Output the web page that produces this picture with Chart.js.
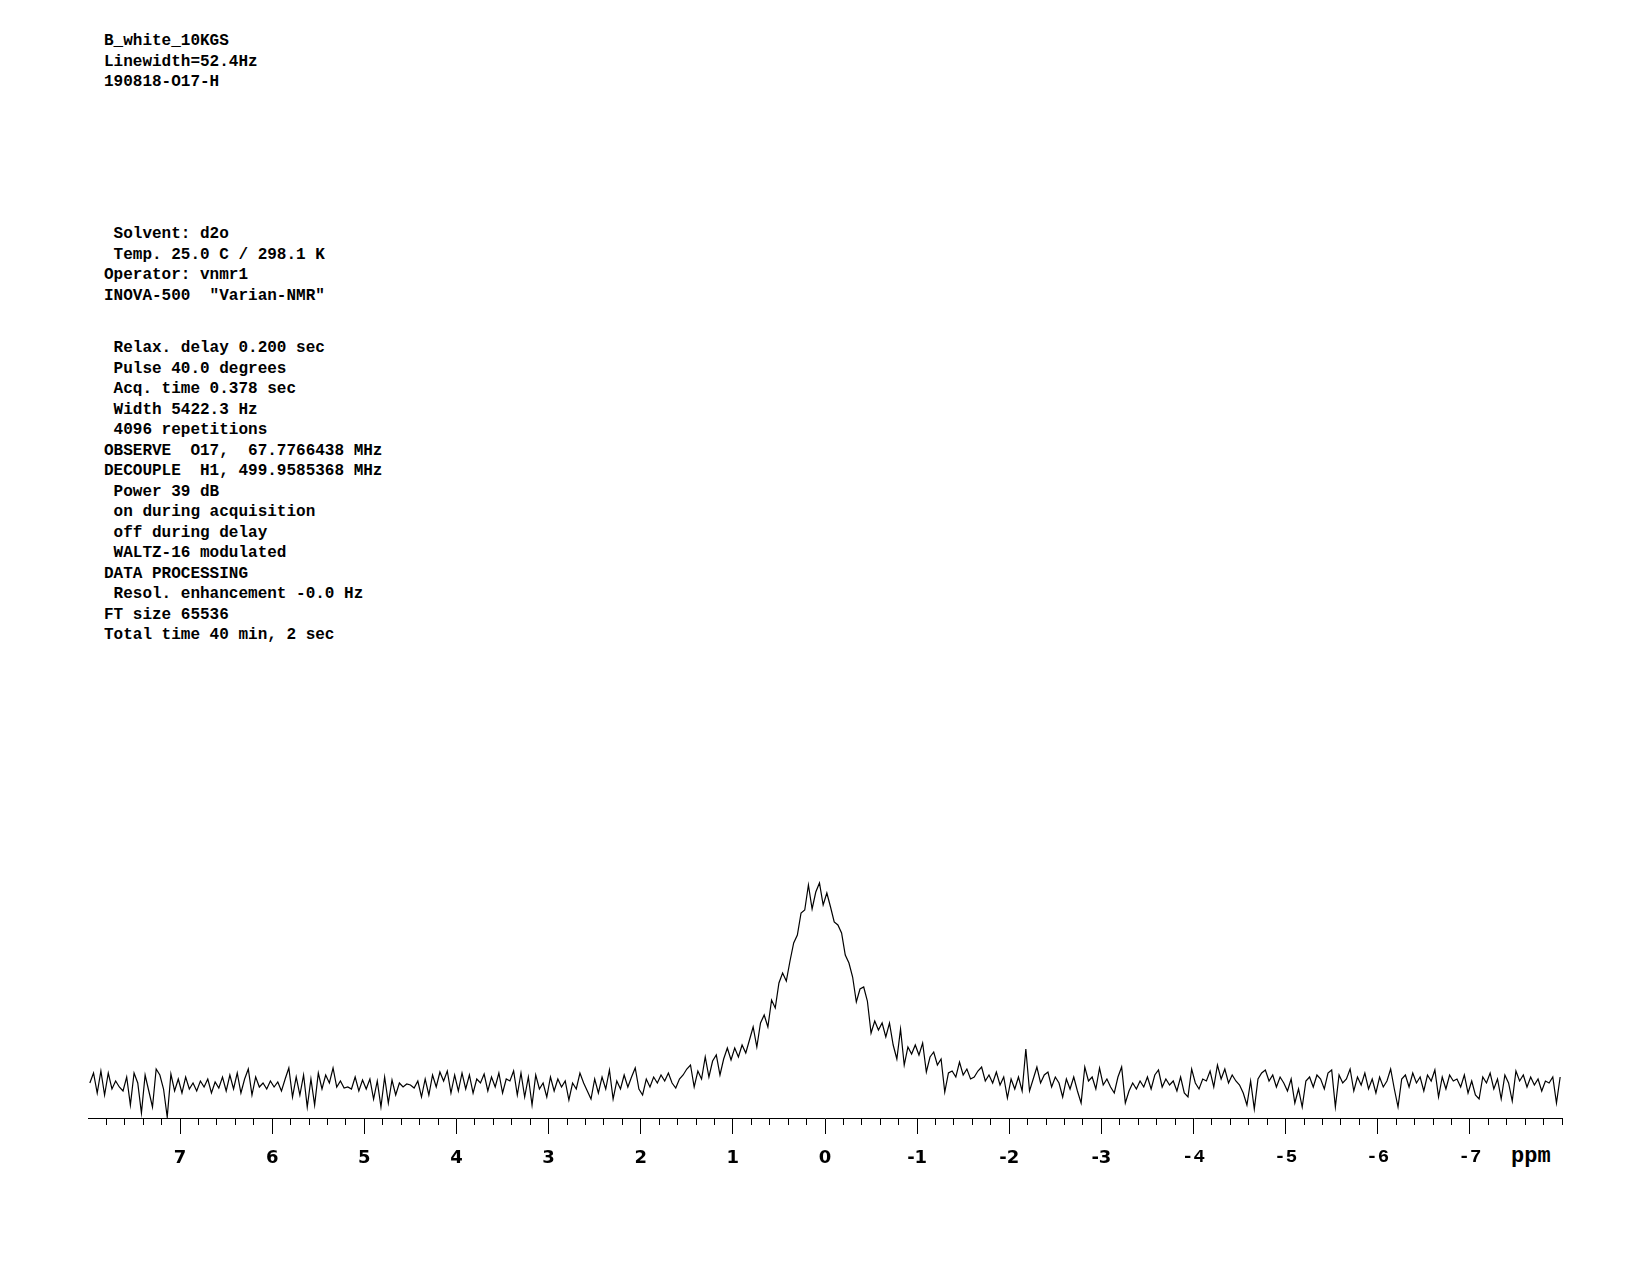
<!DOCTYPE html>
<html>
<head>
<meta charset="utf-8">
<script src="https://cdn.jsdelivr.net/npm/chart.js@4.4.1/dist/chart.umd.min.js"></script>
<style>
    body { margin: 0; background: #fff; }
    .params {
        position: absolute;
        left: 104px;
        font-family: 'Liberation Mono', monospace;
        font-weight: bold;
        font-size: 16px;
        line-height: 20.5px;
        color: #000;
        white-space: pre;
    }
    #ppm {
        position: absolute;
        left: 1511px;
        top: 1145px;
        font-family: 'Liberation Mono', monospace;
        font-weight: bold;
        font-size: 22px;
        line-height: 24px;
    }
    #wrap { position: absolute; left: 0; top: 840px; width: 1650px; height: 340px; }
</style>
</head>
<body>
<div class="params" style="top:31px">B_white_10KGS
Linewidth=52.4Hz
190818-O17-H</div>
<div class="params" style="top:224px"> Solvent: d2o
 Temp. 25.0 C / 298.1 K
Operator: vnmr1
INOVA-500  "Varian-NMR"</div>
<div class="params" style="top:338px"> Relax. delay 0.200 sec
 Pulse 40.0 degrees
 Acq. time 0.378 sec
 Width 5422.3 Hz
 4096 repetitions
OBSERVE  O17,  67.7766438 MHz
DECOUPLE  H1, 499.9585368 MHz
 Power 39 dB
 on during acquisition
 off during delay
 WALTZ-16 modulated
DATA PROCESSING
 Resol. enhancement -0.0 Hz
FT size 65536
Total time 40 min, 2 sec</div>
<div id="ppm">ppm</div>
<div id="wrap"><canvas id="spectrum" width="1650" height="340"></canvas></div>

<script>
// spectrum sampled every 0.04 ppm, starting at 7.98 ppm (left edge) going upfield
const ppmStart = 7.98;
const ppmStep = -0.04;
const intensity = [
    2, 12, -8, 14, -10, 12, -4, 4, -2, -6, 8, -20, 12, 2, -28, 10, -6, -22, 16, 10, -4, -32, 11, -6, 6,
    -8, 8, -4, 2, -6, 4, -2, 6, -8, 3, -3, 8, -6, 10, -4, 12, -8, 6, 16, -10, 8, -2, 2, -4, 4,
    -2, 3, -6, 6, 17, -12, 8, -10, 10, -22, 6, -20, 12, -4, 10, 2, 17, -2, 4, -3, -2, -4, 8, -6, 5,
    -4, 6, -14, 4, -22, 8, -18, 5, -10, 2, -2, 1, 0, -3, 4, -12, 6, -10, 10, -2, 13, 4, 14, -8, 10,
    -6, 12, -4, 10, -8, 6, 2, 11, -6, 8, -2, 12, -8, 6, 4, 14, -10, 12, -12, 8, -20, 10, -4, 2, -12,
    8, -6, 6, -2, 4, -15, 2, -4, 12, 2, -6, -14, 6, -8, 8, -4, 15, -14, 4, -4, 10, -2, 8, 17, -4,
    -10, 6, -2, 8, 2, 10, 4, 12, 2, -3, 6, 10, 16, 20, -2, 14, 6, 28, 8, 24, 30, 10, 26, 37, 25,
    37, 28, 40, 32, 45, 58, 38, 62, 70, 58, 85, 77, 102, 112, 104, 124, 142, 150, 172, 175, 200, 176, 193, 202, 180,
    192, 178, 163, 160, 152, 130, 122, 108, 83, 96, 98, 84, 52, 64, 55, 62, 48, 62, 40, 26, 56, 20, 38, 31, 40,
    30, 42, 13, 28, 33, 20, 26, -7, 12, 14, 8, 23, 10, 16, 6, 8, 14, 18, 4, 10, 2, 13, 0, 8, -13,
    6, -4, 8, -6, 36, -6, 6, 18, 2, 10, 13, -2, 8, 2, -12, 6, -4, 8, -6, -18, 18, 4, 8, -4, 17,
    0, 6, -2, -8, 8, 18, -18, -6, 2, -4, 4, -2, 8, -4, 10, 15, -2, 6, 0, 4, -6, 8, -8, -12, 16,
    2, -4, 6, 4, 14, -2, 20, 6, 16, 2, 10, 4, 0, -8, -20, 4, -24, 6, 12, 15, 4, 10, -2, 8, 2,
    -6, 6, -18, -4, -22, 4, 8, -2, 10, 6, -4, 12, 15, -22, 10, 2, 6, 16, -6, 8, 0, 12, -4, 6, -8,
    8, -2, 4, 16, -4, -22, 6, 10, -2, 12, 2, 8, -6, 10, 4, 15, -12, 8, -4, 10, 4, 6, -2, 10, -8,
    4, -10, -14, 8, 2, 12, -4, 6, -14, 10, 2, -16, 14, 4, 10, -2, 8, 0, 6, -6, 4, 2, 8, -18, 8
];
const majorTicks = [7, 6, 5, 4, 3, 2, 1, 0, -1, -2, -3, -4, -5, -6, -7];
const ppmMin = -8;
const ppmMax = 8;
const yMin = -33;
const yMax = 245;

function minorTickList() {
    const list = [];
    for (let k = 39; k >= -40; k--) {
        if (k % 5 !== 0 || k === -40) list.push({ value: k / 5 });
    }
    return list;
}

function tickFont(context) {
    if (context.tick && context.tick.value <= -4) {
        return { family: 'Liberation Mono', weight: 'bold', size: 19, lineHeight: 1.0 };
    }
    return { family: 'DejaVu Sans', weight: 'bold', size: 18 };
}

function initialize() {
    const points = intensity.map((v, i) => ({ x: ppmStart + i * ppmStep, y: v }));
    const ctx = document.getElementById('spectrum');

    new Chart(ctx, {
        type: 'line',
        data: {
            datasets: [{
                data: points,
                borderColor: '#000',
                borderWidth: 1.2,
                pointRadius: 0,
                tension: 0,
                xAxisID: 'x',
                yAxisID: 'y'
            }]
        },
        options: {
            responsive: false,
            animation: false,
            devicePixelRatio: 1,
            layout: { padding: { left: 88, right: 88, top: 0, bottom: 62 } },
            plugins: {
                legend: { display: false },
                tooltip: { enabled: false }
            },
            scales: {
                y: {
                    display: false,
                    min: yMin,
                    max: yMax
                },
                x: {
                    type: 'linear',
                    position: { y: yMin },
                    reverse: true,
                    min: ppmMin,
                    max: ppmMax,
                    afterBuildTicks: (scale) => {
                        scale.ticks = majorTicks.map(v => ({ value: v }));
                    },
                    ticks: {
                        autoSkip: false,
                        maxRotation: 0,
                        padding: 15,
                        color: '#000',
                        font: tickFont,
                        callback: (v) => String(v)
                    },
                    grid: {
                        drawOnChartArea: false,
                        tickLength: 15,
                        tickColor: '#000',
                        tickWidth: 1
                    },
                    border: { display: true, color: '#000', width: 1 }
                },
                xMinor: {
                    type: 'linear',
                    axis: 'x',
                    position: { y: yMin },
                    reverse: true,
                    min: ppmMin,
                    max: ppmMax,
                    afterBuildTicks: (scale) => {
                        scale.ticks = minorTickList();
                    },
                    ticks: { display: false },
                    grid: {
                        drawOnChartArea: false,
                        tickLength: 7,
                        tickColor: '#000',
                        tickWidth: 1
                    },
                    border: { display: false }
                }
            }
        }
    });
}

window.onload = initialize;
</script>
</body>
</html>
